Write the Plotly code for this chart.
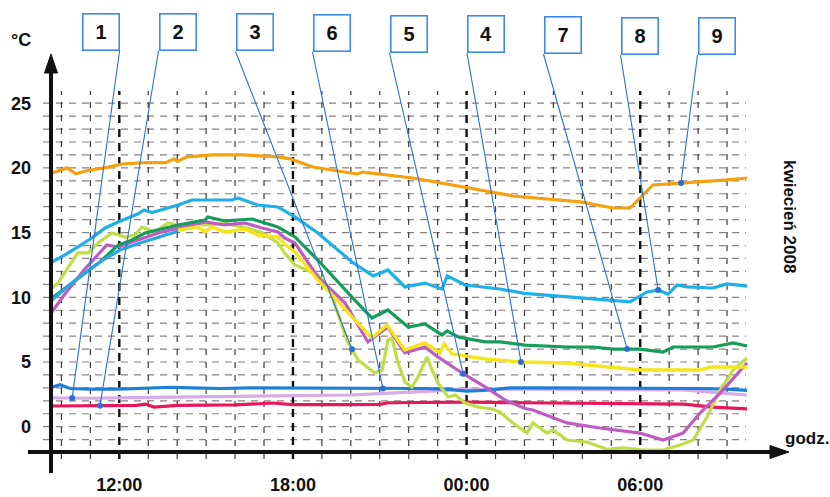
import numpy as np
import plotly.graph_objects as go

# ---------------- data (hours counted from 00:00 of the first day; °C) ----------------
orange_t = [9.67, 10.2, 10.5, 10.9, 11.5, 12.1, 12.9, 13.6, 13.9, 14.0, 14.35, 15.2, 16.3, 17.5, 17.9,
            18.3, 18.69, 20.21, 20.42, 22.15, 23.08, 24.46, 25.60, 27.92, 29.06, 29.65, 30.44, 31.38,
            32.07, 33.00, 33.69]
orange_v = [19.6, 20.0, 19.55, 19.8, 20.0, 20.3, 20.4, 20.4, 20.7, 20.5, 20.85, 21.0, 21.0, 20.85, 20.7,
            20.35, 20.07, 19.53, 19.68, 19.22, 18.83, 18.29, 17.83, 17.37, 16.90, 16.90, 18.68, 18.83,
            18.91, 19.07, 19.22]

cyan_t = [9.67, 10.12, 10.57, 11.05, 11.51, 11.96, 12.65, 12.85, 13.13, 14.03, 14.51, 15.89, 16.10, 16.79,
          17.48, 18.07, 18.86, 20.04, 20.77, 21.28, 21.87, 22.56, 23.15, 23.33, 23.95, 25.15, 26.0, 28.61,
          29.65, 30.24, 30.62, 30.96, 31.27, 31.62, 32.52, 33.00, 33.69]
cyan_v = [12.73, 13.27, 13.89, 14.58, 15.36, 15.82, 16.45, 16.75, 16.55, 17.13, 17.52, 17.52, 17.67, 17.13,
          16.98, 16.21, 14.97, 12.73, 11.65, 12.11, 10.80, 11.10, 10.64, 11.65, 10.95, 10.64, 10.3, 9.79,
          9.64, 10.41, 10.56, 10.25, 10.95, 10.80, 10.72, 11.03, 10.87]

green_t = [9.71, 10.64, 11.33, 11.96, 12.44, 12.89, 14.03, 14.96, 15.06, 15.65, 16.59, 17.03, 17.48, 18.07,
           18.86, 20.04, 20.73, 21.28, 21.98, 22.56, 23.15, 23.33, 23.71, 24.64, 25.15, 26.02, 27.47, 28.37,
           29.06, 29.99, 30.79, 31.14, 32.52, 33.21, 33.69]
green_v = [10.0, 11.57, 12.73, 14.04, 14.43, 14.97, 15.59, 15.97, 16.21, 15.90, 16.05, 15.74, 15.43, 14.66,
           12.88, 10.02, 8.40, 9.02, 7.70, 7.94, 7.09, 7.40, 6.93, 6.55, 6.55, 6.31, 6.16, 6.16,
           6.00, 6.00, 5.77, 6.16, 6.16, 6.47, 6.24]

yellow_t = [9.67, 10.57, 11.33, 12.02, 12.72, 13.41, 13.93, 14.03, 14.72, 14.96, 15.20, 15.65, 16.34, 16.79,
            17.48, 17.72, 18.07, 18.86, 19.45, 20.04, 20.73, 21.25, 21.87, 22.56, 23.08, 23.22, 23.50, 24.64,
            25.15, 25.91, 27.47, 29.20, 29.99, 32.07, 32.42, 33.69]
yellow_v = [9.79, 11.49, 12.73, 13.65, 14.20, 14.66, 15.05, 15.20, 15.43, 15.05, 15.43, 15.05, 15.28, 14.81,
            14.66, 14.1, 13.5, 11.34, 9.98, 8.48, 6.86, 7.86, 5.93, 6.47, 5.70, 6.39, 5.62, 5.23,
            5.15, 5.00, 4.92, 4.54, 4.38, 4.38, 4.61, 4.61]
yellow_blue_part = 8  # first points of this series are printed in blue

magenta_t = [9.67, 10.12, 10.81, 11.57, 11.96, 12.44, 13.34, 14.03, 14.96, 15.65, 16.34, 16.93, 17.48, 17.72,
             18.07, 18.86, 19.80, 20.59, 21.28, 21.87, 22.56, 23.01, 23.84, 24.64, 25.33, 26.02, 26.29, 27.47,
             28.61, 29.99, 30.79, 31.48, 32.07, 32.76, 33.69]
magenta_v = [8.86, 10.25, 12.19, 14.04, 13.89, 14.27, 14.97, 15.36, 15.82, 15.59, 15.74, 15.36, 15.05, 14.58,
             14.20, 11.57, 9.56, 6.55, 7.70, 5.70, 6.16, 5.39, 4.15, 3.07, 2.06, 1.40, 1.29, 0.29,
             -0.10, -0.49, -1.03, -0.49, 1.06, 2.6, 4.92]

lime_t = [9.67, 9.88, 10.47, 10.57, 10.92, 11.26, 11.75, 12.20, 12.54, 12.78, 13.23, 13.68, 14.27, 14.62,
          14.86, 15.65, 16.34, 16.93, 17.48, 17.72, 18.07, 18.86, 19.28, 19.86, 20.25, 20.83, 21.08, 21.28,
          21.42, 21.63, 21.87, 22.11, 22.32, 22.63, 22.81, 23.01, 23.36, 23.61, 23.95, 24.39, 24.88, 25.15,
          25.60, 26.09, 26.29, 26.78, 26.99, 27.47, 28.16, 28.85, 29.41, 30.10, 30.79, 31.38, 31.83, 32.31,
          32.76, 33.21, 33.69]
lime_v = [10.72, 11.11, 13.12, 13.43, 13.43, 14.20, 14.97, 14.66, 14.81, 15.43, 15.05, 15.74, 15.43, 15.82,
          15.59, 15.7, 15.4, 15.0, 14.2, 13.4, 12.5, 11.73, 10.6, 6.7, 5.15, 4.15, 4.38, 6.70,
          6.86, 4.92, 3.46, 3.07, 3.84, 5.39, 4.38, 3.38, 2.30, 2.45, 1.83, 1.52, 1.37, 1.14,
          0.29, -0.49, 0.29, -0.49, -0.25, -1.03, -1.18, -1.75, -1.64, -1.8, -1.8, -1.41, -1.03, 0.75,
          2.84, 4.38, 5.31]

blue_t = [9.67, 9.95, 10.3, 11.0, 12.0, 13.0, 13.8, 14.5, 15.5, 16.5, 17.5, 18.5, 19.5, 20.5, 21.5, 22.5,
          23.3, 24.0, 24.6, 25.5, 26.5, 28.0, 29.5, 31.0, 32.0, 33.0, 33.69]
blue_v = [3.05, 3.25, 2.95, 2.9, 2.9, 2.95, 3.05, 3.0, 2.95, 3.0, 3.0, 2.95, 2.95, 2.95, 2.95, 2.95,
          2.9, 2.75, 2.8, 3.0, 3.0, 3.0, 3.0, 3.0, 2.95, 2.9, 2.8]

lav_t = [9.67, 11.0, 12.5, 14.0, 15.5, 17.0, 18.5, 20.0, 21.0, 22.0, 23.0, 24.0, 26.0, 28.0, 30.0, 31.5,
         32.5, 33.69]
lav_v = [2.22, 2.2, 2.25, 2.3, 2.35, 2.35, 2.4, 2.45, 2.55, 2.65, 2.78, 2.88, 2.9, 2.9, 2.9, 2.85,
         2.65, 2.45]

red_t = [9.67, 10.5, 12.0, 12.6, 12.9, 13.2, 14.0, 16.0, 17.3, 18.0, 20.0, 21.0, 21.3, 23.0, 24.0, 26.0,
         28.0, 30.0, 31.5, 32.5, 33.69]
red_v = [1.6, 1.6, 1.62, 1.65, 1.75, 1.52, 1.65, 1.68, 1.83, 1.7, 1.7, 1.72, 1.85, 1.88, 1.9, 1.85,
         1.8, 1.8, 1.75, 1.52, 1.37]

# callouts: label, series it points at, hour of the point
callout_labels = ["1", "2", "3", "6", "5", "4", "7", "8", "9"]
callout_series = ["lav", "red", "lime", "blue", "magenta", "yellow", "green", "cyan", "orange"]
callout_hours = [10.37, 11.33, 20.04, 21.11, 23.88, 25.88, 29.55, 30.62, 31.41]

y_tick_vals = [0, 5, 10, 15, 20, 25]
x_tick_vals = [12, 18, 24, 30]
x_tick_text = ["12:00", "18:00", "00:00", "06:00"]

# ---------------- layout geometry ----------------
W, H = 830, 497
ML, MR, MT, MB = 32, 25, 35, 29
X_RANGE = [8.983, 35.694]
Y_RANGE = [-3.192, 30.27]
PW, PH = W - ML - MR, H - MT - MB


def px_h(px):
    return X_RANGE[0] + (px - ML) / PW * (X_RANGE[1] - X_RANGE[0])


def py_t(py):
    return Y_RANGE[0] + (H - MB - py) / PH * (Y_RANGE[1] - Y_RANGE[0])


def pxp(px):
    return (px - ML) / PW


def pyp(py):
    return (H - MB - py) / PH


series = {
    "orange": (orange_t, orange_v, "#f5a10f"),
    "cyan": (cyan_t, cyan_v, "#1fb0ea"),
    "green": (green_t, green_v, "#169d5c"),
    "yellow": (yellow_t, yellow_v, "#f6e51c"),
    "magenta": (magenta_t, magenta_v, "#bf5cc4"),
    "lime": (lime_t, lime_v, "#bddf45"),
    "blue": (blue_t, blue_v, "#1f7fd8"),
    "lav": (lav_t, lav_v, "#d6abe6"),
    "red": (red_t, red_v, "#e9175a"),
}

fig = go.Figure()

draw_order = ["lav", "red", "blue", "lime", "cyan", "magenta", "green", "yellow", "orange"]
for key in draw_order:
    t, v, col = series[key]
    if key == "yellow":
        k = yellow_blue_part
        fig.add_trace(go.Scatter(x=t[:k], y=v[:k], mode="lines",
                                 line=dict(color="#2aa6e2", width=3.2), hoverinfo="skip"))
        fig.add_trace(go.Scatter(x=t[k - 1:], y=v[k - 1:], mode="lines",
                                 line=dict(color=col, width=3.4), hoverinfo="skip"))
    else:
        fig.add_trace(go.Scatter(x=t, y=v, mode="lines", line=dict(color=col, width=3.2),
                                 hoverinfo="skip"))

# callout boxes (pixel centres) and leader lines
box_cx = [100.5, 177.5, 254.5, 331.5, 408.5, 486, 562.5, 639.5, 716.5]
box_cy = [32, 32, 32.5, 33, 34, 34, 35, 36, 36]
box_side = ["r", "l", "l", "l", "l", "l", "l", "l", "l"]
BOX = 38
LEAD = "#2b6fd4"

shapes = []
annotations = []
dot_x, dot_y = [], []
for lab, key, hr, cx, cy, side in zip(callout_labels, callout_series, callout_hours, box_cx, box_cy, box_side):
    t, v, _ = series[key]
    val = float(np.interp(hr, t, v))
    sx = cx + BOX / 2 if side == "r" else cx - BOX / 2
    sy = cy + BOX / 2
    fig.add_trace(go.Scatter(x=[px_h(sx), hr], y=[py_t(sy), val], mode="lines",
                             line=dict(color=LEAD, width=1.1), hoverinfo="skip", cliponaxis=False))
    dot_x.append(hr)
    dot_y.append(val)
    annotations.append(dict(xref="paper", yref="paper", x=pxp(cx), y=pyp(cy), text=lab,
                            showarrow=False, xanchor="center", yanchor="middle",
                            width=35, height=35, borderpad=0, borderwidth=1.6,
                            bordercolor="#3f8ae6", bgcolor="white",
                            font=dict(family="Liberation Sans, Arial, sans-serif", size=20,
                                      color="#111", weight="bold")))

fig.add_trace(go.Scatter(x=dot_x, y=dot_y, mode="markers",
                         marker=dict(color=LEAD, size=6), hoverinfo="skip"))

# grid lines
for v in range(-1, 26):
    shapes.append(dict(type="line", xref="x", yref="y", x0=px_h(43), x1=px_h(746), y0=v, y1=v,
                       line=dict(color="#8c8088", width=1.2, dash="7px,6px"), layer="below"))
for hr in range(10, 34):
    major = hr in x_tick_vals
    shapes.append(dict(type="line", xref="x", yref="y", x0=hr, x1=hr, y0=py_t(459), y1=py_t(91),
                       line=dict(color="#111" if major else "#3c3c3c", width=2.4 if major else 1.2,
                                 dash="8px,6px" if major else "6px,7px"),
                       layer="below"))

# axis lines with arrow heads (paper coordinates)
shapes.append(dict(type="line", xref="paper", yref="paper", x0=pxp(28), x1=pxp(775),
                   y0=pyp(452), y1=pyp(452), line=dict(color="#111", width=4)))
shapes.append(dict(type="path", xref="paper", yref="paper",
                   path=f"M{pxp(770)},{pyp(445.5)} L{pxp(789)},{pyp(452)} L{pxp(770)},{pyp(458.5)} Z",
                   fillcolor="#111", line=dict(color="#111", width=1)))
shapes.append(dict(type="line", xref="paper", yref="paper", x0=pxp(51), x1=pxp(51),
                   y0=pyp(473), y1=pyp(70), line=dict(color="#111", width=4)))
shapes.append(dict(type="path", xref="paper", yref="paper",
                   path=f"M{pxp(44.5)},{pyp(73)} L{pxp(51)},{pyp(54)} L{pxp(57.5)},{pyp(73)} Z",
                   fillcolor="#111", line=dict(color="#111", width=1)))

TXT = dict(family="Liberation Sans, Arial, sans-serif", color="#111", weight="bold")
annotations.append(dict(xref="paper", yref="paper", x=pxp(21), y=pyp(40), text="°C", showarrow=False,
                        xanchor="center", yanchor="middle", font=dict(size=18, **TXT)))
annotations.append(dict(xref="paper", yref="paper", x=pxp(790), y=pyp(216), text="kwiecień 2008",
                        showarrow=False, textangle=90, xanchor="center", yanchor="middle",
                        font=dict(size=17, **TXT)))
annotations.append(dict(xref="paper", yref="paper", x=pxp(807), y=pyp(438), text="godz.",
                        showarrow=False, xanchor="center", yanchor="middle",
                        font=dict(size=17, **TXT)))

fig.update_layout(
    width=W, height=H,
    margin=dict(l=ML, r=MR, t=MT, b=MB, pad=0, autoexpand=False),
    paper_bgcolor="white", plot_bgcolor="white",
    showlegend=False,
    shapes=shapes, annotations=annotations,
    xaxis=dict(range=X_RANGE, autorange=False, showgrid=False, zeroline=False, showline=False,
               automargin=False,
               tickmode="array", tickvals=x_tick_vals, ticktext=x_tick_text, ticks="",
               ticklabelstandoff=4, tickfont=dict(size=18, **TXT), fixedrange=True),
    yaxis=dict(range=Y_RANGE, autorange=False, showgrid=False, zeroline=False, showline=False,
               automargin=False,
               tickmode="array", tickvals=y_tick_vals, ticktext=[str(v) for v in y_tick_vals],
               ticks="", ticklabelstandoff=0, tickfont=dict(size=18, **TXT), fixedrange=True),
)

fig.write_html("out.html", config={"displayModeBar": False},
               post_script="document.body.style.margin='0px';")
